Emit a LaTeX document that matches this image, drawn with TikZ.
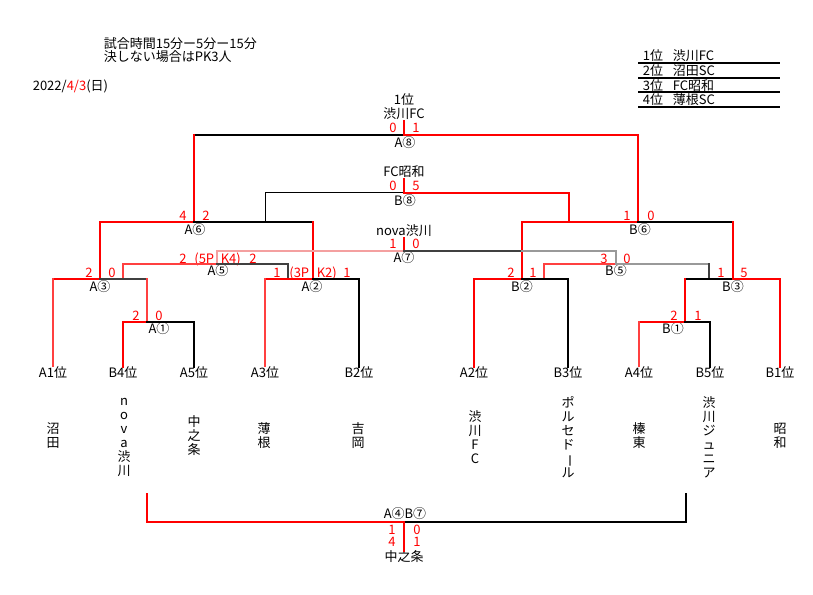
\documentclass[tikz,border=0pt]{standalone}
\usepackage{fontspec}
\setmainfont{Noto Sans CJK JP}
\definecolor{lred}{HTML}{FF4040}
\definecolor{pinkl}{HTML}{F4A0A0}
\definecolor{gdark}{HTML}{404040}
\definecolor{glight}{HTML}{999999}
\tikzset{
  every node/.style={font=\fontsize{13bp}{14bp}\selectfont, inner sep=0.6bp},
  sc/.style={text=red},
  vt/.style={align=center},
  Rk/.style={draw=red, line width=2.6bp},
  Rm/.style={draw=red, line width=1.8bp},
  Rl/.style={draw=lred, line width=1.5bp},
  Pk/.style={draw=pinkl, line width=1.2bp},
  Bk/.style={draw=black, line width=2.6bp},
  Bm/.style={draw=black, line width=2bp},
  Bt/.style={draw=black, line width=1bp},
  Gd/.style={draw=gdark, line width=1.5bp},
  Gl/.style={draw=glight, line width=1.3bp},
}
\begin{document}
\begin{tikzpicture}[x=1bp,y=-1bp,line cap=rect]
\fill[white] (0,0) rectangle (813,595);
\useasboundingbox (0,0) rectangle (813,595);

% header texts
\node[anchor=west] (h1) at (103,44) {試合時間15分ー5分ー15分};
\node[anchor=west] (h2) at (103,57) {決しない場合はPK3人};
\node[anchor=west] (h3) at (32,86) {2022/\textcolor{red}{4/3}(日)};

% legend
\node[anchor=west] (r1) at (642,56) {1位};
\node[anchor=west] (n1) at (672,56) {渋川FC};
\node[anchor=west] (r2) at (642,71) {2位};
\node[anchor=west] (n2) at (672,71) {沼田SC};
\node[anchor=west] (r3) at (642,86) {3位};
\node[anchor=west] (n3) at (672,86) {FC昭和};
\node[anchor=west] (r4) at (642,100) {4位};
\node[anchor=west] (n4) at (672,100) {薄根SC};
\draw[Bm] (639,63) -- (779,63);
\draw[Bm] (639,78) -- (779,78);
\draw[Bm] (639,92) -- (779,92);
\draw[Bm] (639,107) -- (779,107);

% junction coordinates
\coordinate (jA8) at (404,135);
\coordinate (jB8) at (404,193);
\coordinate (jA7) at (404,251);
\coordinate (jA6) at (194,222);
\coordinate (jB6) at (638,222);
\coordinate (jA5) at (217,264);
\coordinate (jB5) at (616,264);
\coordinate (jA3) at (100,279);
\coordinate (jA2) at (313,279);
\coordinate (jB2) at (522,279);
\coordinate (jB3) at (733,279);
\coordinate (jA1) at (147,322);
\coordinate (jB1) at (685,322);
\coordinate (jF) at (404,522);
\coordinate (fL) at (147,494);
\coordinate (fR) at (686,494);
\coordinate (b8L) at (265,222);
\coordinate (b8R) at (569,222);
\coordinate (a5L) at (123,279);
\coordinate (a5R) at (288,279);
\coordinate (b5L) at (544,279);
\coordinate (b5R) at (709,279);

% leaf nodes
\node (lA1) at (53,373) {A1位};
\node (lB4) at (123,373) {B4位};
\node (lA5) at (194,373) {A5位};
\node (lA3) at (265,373) {A3位};
\node (lB2) at (359,373) {B2位};
\node (lA2) at (474,373) {A2位};
\node (lB3) at (568,373) {B3位};
\node (lA4) at (639,373) {A4位};
\node (lB5) at (710,373) {B5位};
\node (lB1) at (780,373) {B1位};

% team names
\node[vt] (t1) at (53,436) {沼\\田};
\node[vt] (t2) at (124,437.5) {n\\o\\v\\a\\渋\\川};
\node[vt] (t3) at (194,436) {中\\之\\条};
\node[vt] (t4) at (264,436) {薄\\根};
\node[vt] (t5) at (358,436) {吉\\岡};
\node[vt] (t6) at (475,437) {渋\\川\\F\\C};
\node[vt] (t7) at (568,437) {ポ\\ル\\セ\\ド\\\rotatebox[origin=c]{-90}{ー}\\ル};
\node[vt] (t8) at (639,436) {榛\\東};
\node[vt] (t9) at (709,437) {渋\\川\\ジ\\ュ\\ニ\\ア};
\node[vt] (t10) at (780,436) {昭\\和};

% winner / match labels
\node (rk1) at (404,100) {1位};
\node (wA8) at (404,114) {渋川FC};
\node (mA8) at (405,143) {A⑧};
\node (wB8) at (404,172) {FC昭和};
\node (mB8) at (405,201) {B⑧};
\node (wA7) at (404,231) {nova渋川};
\node (mA7) at (404,258) {A⑦};
\node (mA6) at (195,230) {A⑥};
\node (mB6) at (640,230) {B⑥};
\node (mA5) at (218,271) {A⑤};
\node (mB5) at (616,271) {B⑤};
\node (mA3) at (100,287) {A③};
\node (mA2) at (312,287) {A②};
\node (mB2) at (522,287) {B②};
\node (mB3) at (733,287) {B③};
\node (mA1) at (159,329) {A①};
\node (mB1) at (673,329) {B①};
\node (mF) at (405,514) {A④B⑦};
\node (wF) at (404,557) {中之条};

% scores
\node[sc] (s1) at (393,128) {0};
\node[sc] (s2) at (416,128) {1};
\node[sc] (s3) at (393,186) {0};
\node[sc] (s4) at (416,186) {5};
\node[sc] (s5) at (183,216) {4};
\node[sc] (s6) at (206,216) {2};
\node[sc] (s7) at (627,216) {1};
\node[sc] (s8) at (651,216) {0};
\node[sc] (s9) at (393,244) {1};
\node[sc] (s10) at (416,244) {0};
\node[sc] (s11) at (183,259) {2};
\node[sc,anchor=east] (s12) at (215,259) {(5P};
\node[sc,anchor=west] (s13) at (220,259) {K4)};
\node[sc] (s14) at (253,259) {2};
\node[sc] (s15) at (604,259) {3};
\node[sc] (s16) at (627,259) {0};
\node[sc] (s17) at (89,273) {2};
\node[sc] (s18) at (112,273) {0};
\node[sc] (s19) at (277,273) {1};
\node[sc,anchor=east] (s20) at (310,273) {(3P};
\node[sc,anchor=west] (s21) at (316,273) {K2)};
\node[sc] (s22) at (347,273) {1};
\node[sc] (s23) at (511,273) {2};
\node[sc] (s24) at (533,273) {1};
\node[sc] (s25) at (721,273) {1};
\node[sc] (s26) at (744,273) {5};
\node[sc] (s27) at (136,316) {2};
\node[sc] (s28) at (159,316) {0};
\node[sc] (s29) at (674,316) {2};
\node[sc] (s30) at (698,316) {1};
\node[sc] (s31) at (392,530) {1};
\node[sc] (s32) at (417,530) {0};
\node[sc] (s33) at (392,542) {4};
\node[sc] (s34) at (417,542) {1};

% A8
\draw[Rk] (wA8) -- (jA8);
\draw[Bk] (jA8) -- (jA8 -| jA6);
\draw[Rm] (jA8 -| jA6) -- (jA6);
\draw[Rm] (jA8) -| (jB6);
% B8
\draw[Rm] (wB8) -- (jB8);
\draw[Bt] (jB8) -| (b8L);
\draw[Rm] (jB8) -| (b8R);
% A6
\draw[Rk] (jA6) -- (jA6 -| jA3);
\draw[Rm] (jA6 -| jA3) -- (jA3);
\draw[Bk] (jA6) -- (jA6 -| jA2);
\draw[Rm] (jA6 -| jA2) -- (jA2);
% B6
\draw[Rm] (jB6) -| (jB2);
\draw[Bk] (jB6) -- (jB6 -| jB3);
\draw[Rm] (jB6 -| jB3) -- (jB3);
% A7
\draw[Rm] (wA7) -- (jA7);
\draw[Pk] (jA7) -| (jA5);
\draw[Gd] (jA7) -- (jA7 -| jB2);
\draw[Gl] (jA7 -| jB2) -| (jB5);
% A5
\draw[Rl] (jA5) -| (a5L);
\draw[Gd] (jA5) -| (a5R);
% B5
\draw[Rl] (jB5) -| (b5L);
\draw[Gl] (jB5) -- (jB5 -| b5R);
\draw[Gd] (jB5 -| b5R) -- (b5R);
% A3
\draw[Rk] (jA3) -- (jA3 -| lA1);
\draw[Rl] (jA3 -| lA1) -- (lA1);
\draw[Gd] (jA3) -- (jA3 -| jA1);
\draw[Rl] (jA3 -| jA1) -- (jA1);
% A1
\draw[Rk] (jA1) -| (lB4);
\draw[Bk] (jA1) -| (lA5);
% A2
\draw[Rk] (jA2) -- (jA2 -| lA3);
\draw[Rl] (jA2 -| lA3) -- (lA3);
\draw[Bk] (jA2) -| (lB2);
% B2
\draw[Rk] (jB2) -| (lA2);
\draw[Bk] (jB2) -| (lB3);
% B3
\draw[Bk] (jB3) -- (jB3 -| jB1);
\draw[Rm] (jB3 -| jB1) -- (jB1);
\draw[Rk] (jB3) -| (lB1);
% B1
\draw[Rk] (jB1) -- (jB1 -| lA4);
\draw[Rl] (jB1 -| lA4) -- (lA4);
\draw[Bk] (jB1) -| (lB5);
% final A4-B7
\draw[Rm] (jF) -| (fL);
\draw[Bm] (jF) -- (jF -| fR);
\draw[Bk] (jF -| fR) -- (fR);
\draw[Rk] (jF) -- (wF);
\end{tikzpicture}
\end{document}
